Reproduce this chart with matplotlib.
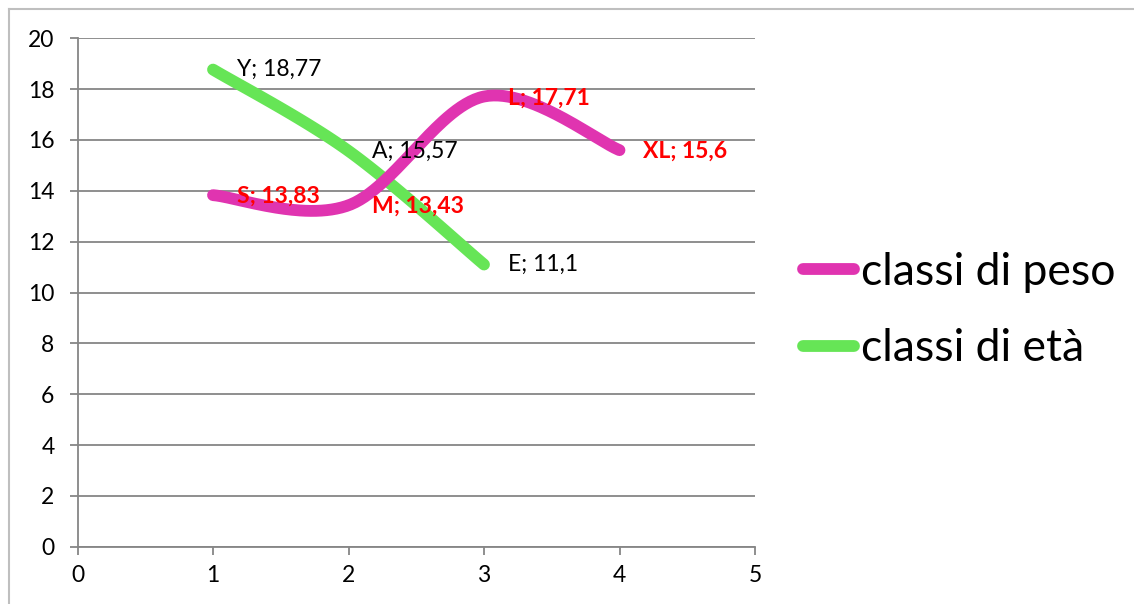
import numpy as np
import matplotlib
matplotlib.use("Agg")
import matplotlib.pyplot as plt
from matplotlib.lines import Line2D

plt.rcParams['font.family'] = ['Lato', 'DejaVu Sans']

# Series data
peso_x = [1, 2, 3, 4]
peso_y = [13.83, 13.43, 17.71, 15.6]
peso_cat = ["S", "M", "L", "XL"]

eta_x = [1, 2, 3]
eta_y = [18.77, 15.57, 11.1]
eta_cat = ["Y", "A", "E"]

series_names = ["classi di peso", "classi di età"]
pink = "#E034B0"
green = "#66E556"
grid_col = "#868686"


def smooth(xs, ys, n=60):
    """Cubic Bezier spline through the points (Catmull-Rom style tangents)."""
    P = np.column_stack([xs, ys]).astype(float)
    pts = []
    m = len(P)
    for i in range(m - 1):
        p0 = P[i - 1] if i > 0 else P[i]
        p1 = P[i]
        p2 = P[i + 1]
        p3 = P[i + 2] if i + 2 < m else P[i + 1]
        c1 = p1 + (p2 - p0) / 6.0
        c2 = p2 - (p3 - p1) / 6.0
        t = np.linspace(0, 1, n)[:, None]
        seg = ((1 - t) ** 3) * p1 + 3 * t * (1 - t) ** 2 * c1 + 3 * t ** 2 * (1 - t) * c2 + t ** 3 * p2
        pts.append(seg if i == 0 else seg[1:])
    pts = np.vstack(pts)
    return pts[:, 0], pts[:, 1]


fig = plt.figure(figsize=(11.34, 6.04), dpi=100)
W, H = 1134, 604
ax = fig.add_axes([77.5 / W, 57.3 / H, (755 - 77.5) / W, (546.7 - 38.3) / H])

ax.set_xlim(0, 5)
ax.set_ylim(0, 20)
ax.set_xticks(range(0, 6))
ax.set_yticks(range(0, 21, 2))
ax.yaxis.grid(True, color=grid_col, linewidth=1.3)
ax.set_axisbelow(True)
for s in ["top", "right"]:
    ax.spines[s].set_visible(False)
for s in ["left", "bottom"]:
    ax.spines[s].set_color(grid_col)
    ax.spines[s].set_linewidth(1.3)
ax.tick_params(axis="both", direction="out", length=5.5, width=1.3, color=grid_col,
               labelsize=16.5, labelcolor="black")
ax.tick_params(axis="y", pad=11)
ax.tick_params(axis="x", pad=8)

lw = 8.5
sx, sy = smooth(peso_x, peso_y)
l1, = ax.plot(sx, sy, color=pink, linewidth=lw, solid_capstyle="round",
              label=series_names[0], zorder=3)
sx, sy = smooth(eta_x, eta_y)
l2, = ax.plot(sx, sy, color=green, linewidth=lw, solid_capstyle="round",
              label=series_names[1], zorder=2)

def fmt(v):
    return ("%g" % v).replace(".", ",")

for x, y, c in zip(eta_x, eta_y, eta_cat):
    ax.annotate(f"{c}; {fmt(y)}", (x, y), xytext=(17, 0), textcoords="offset points",
                ha="left", va="center", fontsize=16.5, color="black", zorder=5)
for x, y, c in zip(peso_x, peso_y, peso_cat):
    ax.annotate(f"{c}; {fmt(y)}", (x, y), xytext=(17, -1), textcoords="offset points",
                ha="left", va="center", fontsize=16.5, color="red", fontweight="bold", zorder=5)

fig.legend(handles=[l1, l2], loc="center left", bbox_to_anchor=(803 / W, 1 - 310.5 / H),
           frameon=False, fontsize=32, handlelength=1.15, handletextpad=0.15,
           labelspacing=0.8, borderpad=0, borderaxespad=0)

# outer chart border
fig.add_artist(Line2D([9 / W, 1], [1 - 9 / H, 1 - 9 / H], color="#BFBFBF", linewidth=1.5,
                      transform=fig.transFigure))
fig.add_artist(Line2D([9 / W, 9 / W], [0, 1 - 9 / H], color="#BFBFBF", linewidth=1.5,
                      transform=fig.transFigure))

fig.savefig("out.png", dpi=100)
